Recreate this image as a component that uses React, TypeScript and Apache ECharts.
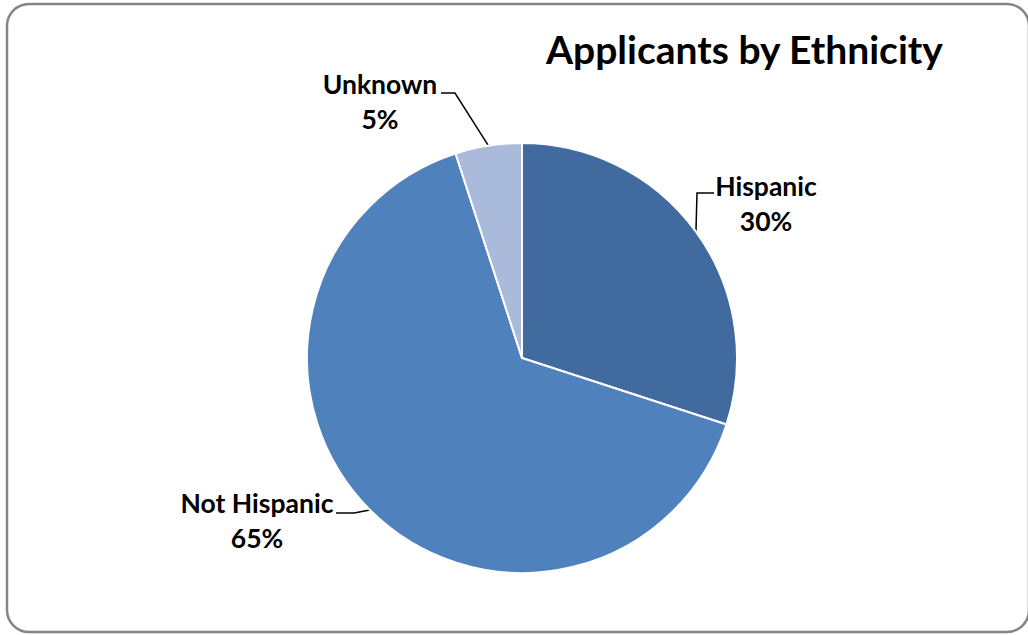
import React, { useEffect, useRef } from "react";
import * as echarts from "echarts";

const categories = ["Hispanic", "Not Hispanic", "Unknown"];
const values = [30, 65, 5];
const colors = ["#416B9F", "#4F81BD", "#A9BADB"];

// label anchor (centre of label block) and leader-line bend per slice
const labelPos = [
  { x: 766, y: 203, bend: [697, 193], end: [714, 193] },
  { x: 257, y: 520, bend: [354, 513], end: [336, 513] },
  { x: 380, y: 101, bend: [455, 93], end: [441, 93] },
];

const FONT = "Lato, 'Open Sans', sans-serif";

export default function App() {
  const ref = useRef<HTMLDivElement>(null);
  useEffect(() => {
    const chart = echarts.init(ref.current!, null, { renderer: "svg" });
    chart.setOption({
      animation: false,
      backgroundColor: "#ffffff",
      title: {
        text: "Applicants by Ethnicity",
        left: 541,
        top: 24,
        textStyle: { fontFamily: FONT, fontWeight: "bold", fontSize: 39, color: "#000" },
      },
      graphic: [
        {
          type: "rect",
          shape: { x: 7, y: 4, width: 1022, height: 628, r: 22 },
          style: { fill: "none", stroke: "#858585", lineWidth: 2.5 },
          z: 100,
        },
      ],
      series: [
        {
          type: "pie",
          center: [522, 358],
          radius: [0, 215],
          startAngle: 90,
          clockwise: true,
          data: categories.map((c, i) => ({
            name: c,
            value: values[i],
            itemStyle: { color: colors[i] },
          })),
          itemStyle: { borderColor: "#ffffff", borderWidth: 2 },
          label: {
            show: true,
            position: "outside",
            formatter: (p: any) => `${p.name}\n${Math.round(p.percent)}%`,
            fontFamily: FONT,
            fontWeight: "bold",
            fontSize: 26.5,
            lineHeight: 35,
            color: "#000",
            align: "center",
          },
          labelLine: {
            show: true,
            length: 20,
            length2: 20,
            lineStyle: { color: "#000", width: 1.5 },
          },
          labelLayout: (params: any) => {
            const lp = labelPos[params.dataIndex];
            const start = params.labelLinePoints ? params.labelLinePoints[0] : lp.bend;
            return {
              x: lp.x,
              y: lp.y,
              align: "center",
              verticalAlign: "middle",
              labelLinePoints: [start, lp.bend, lp.end],
            };
          },
        },
      ],
    });
    return () => chart.dispose();
  }, []);
  return (
    <div
      ref={ref}
      style={{ position: "fixed", left: 0, top: 0, width: 1028, height: 635 }}
    />
  );
}
